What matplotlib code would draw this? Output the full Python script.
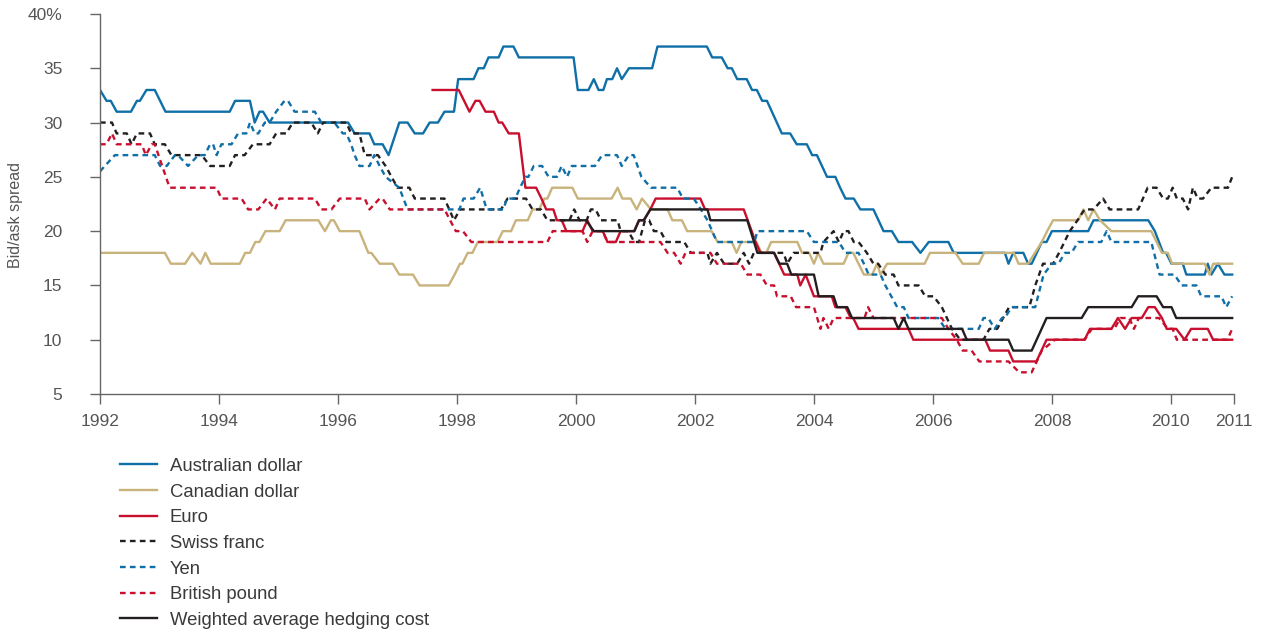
import matplotlib
matplotlib.use("Agg")
import matplotlib.pyplot as plt

plt.rcParams['font.family'] = ['Liberation Sans', 'DejaVu Sans']

# bid/ask spreads: (year, value)
aud = [(1992.00, 33), (1992.11, 32), (1992.18, 32), (1992.28, 31), (1992.52, 31), (1992.62, 32), (1992.67, 32),
       (1992.78, 33), (1992.92, 33), (1993.10, 31), (1994.18, 31), (1994.27, 32), (1994.52, 32), (1994.60, 30),
       (1994.68, 31), (1994.74, 31), (1994.85, 30), (1996.17, 30), (1996.28, 29), (1996.53, 29), (1996.61, 28),
       (1996.75, 28), (1996.85, 27), (1997.03, 30), (1997.17, 30), (1997.29, 29), (1997.43, 29), (1997.54, 30),
       (1997.68, 30), (1997.79, 31), (1997.95, 31), (1998.02, 34), (1998.28, 34), (1998.36, 35), (1998.45, 35),
       (1998.53, 36), (1998.70, 36), (1998.78, 37), (1998.95, 37), (1999.04, 36), (1999.96, 36), (2000.03, 33),
       (2000.21, 33), (2000.30, 34), (2000.38, 33), (2000.46, 33), (2000.52, 34), (2000.61, 34), (2000.69, 35),
       (2000.77, 34), (2000.89, 35), (2001.28, 35), (2001.37, 37), (2002.20, 37), (2002.29, 36), (2002.45, 36),
       (2002.55, 35), (2002.62, 35), (2002.71, 34), (2002.87, 34), (2002.96, 33), (2003.04, 33), (2003.13, 32),
       (2003.21, 32), (2003.46, 29), (2003.60, 29), (2003.71, 28), (2003.88, 28), (2003.97, 27), (2004.05, 27),
       (2004.22, 25), (2004.36, 25), (2004.44, 24), (2004.53, 23), (2004.67, 23), (2004.78, 22), (2005.00, 22),
       (2005.17, 20), (2005.31, 20), (2005.42, 19), (2005.65, 19), (2005.79, 18), (2005.93, 19), (2006.26, 19),
       (2006.35, 18), (2007.21, 18), (2007.27, 17), (2007.35, 18), (2007.52, 18), (2007.60, 17), (2007.66, 17),
       (2007.83, 19), (2007.91, 19), (2008.00, 20), (2008.61, 20), (2008.70, 21), (2009.62, 21), (2009.73, 20),
       (2009.87, 18), (2009.92, 18), (2010.01, 17), (2010.20, 17), (2010.26, 16), (2010.57, 16), (2010.62, 17),
       (2010.68, 16), (2010.79, 17), (2010.90, 16), (2011.03, 16)]

cad = [(1992.00, 18), (1993.09, 18), (1993.19, 17), (1993.43, 17), (1993.55, 18), (1993.69, 17), (1993.77, 18),
       (1993.86, 17), (1994.35, 17), (1994.44, 18), (1994.52, 18), (1994.61, 19), (1994.68, 19), (1994.78, 20),
       (1995.02, 20), (1995.12, 21), (1995.67, 21), (1995.78, 20), (1995.88, 21), (1995.93, 21), (1996.03, 20),
       (1996.36, 20), (1996.51, 18), (1996.56, 18), (1996.70, 17), (1996.92, 17), (1997.03, 16), (1997.26, 16),
       (1997.37, 15), (1997.86, 15), (1997.96, 16), (1998.05, 17), (1998.09, 17), (1998.18, 18), (1998.26, 18),
       (1998.35, 19), (1998.68, 19), (1998.77, 20), (1998.91, 20), (1998.99, 21), (1999.19, 21), (1999.27, 22),
       (1999.38, 22), (1999.47, 23), (1999.52, 23), (1999.60, 24), (1999.94, 24), (2000.03, 23), (2000.60, 23),
       (2000.70, 24), (2000.78, 23), (2000.92, 23), (2001.02, 22), (2001.11, 23), (2001.26, 22), (2001.54, 22),
       (2001.62, 21), (2001.78, 21), (2001.87, 20), (2002.28, 20), (2002.38, 19), (2002.62, 19), (2002.70, 18),
       (2002.78, 19), (2003.03, 19), (2003.12, 18), (2003.20, 18), (2003.28, 19), (2003.72, 19), (2003.80, 18),
       (2003.92, 18), (2004.00, 17), (2004.07, 18), (2004.16, 17), (2004.50, 17), (2004.58, 18), (2004.66, 18),
       (2004.84, 16), (2004.98, 16), (2005.06, 17), (2005.12, 16), (2005.23, 17), (2005.86, 17), (2005.95, 18),
       (2006.38, 18), (2006.50, 17), (2006.77, 17), (2006.86, 18), (2007.36, 18), (2007.44, 17), (2007.60, 17),
       (2007.83, 19), (2007.92, 20), (2008.02, 21), (2008.44, 21), (2008.53, 22), (2008.61, 21), (2008.70, 22),
       (2008.81, 21), (2009.00, 20), (2009.67, 20), (2009.85, 18), (2009.95, 18), (2010.02, 17), (2010.57, 17),
       (2010.65, 16), (2010.71, 17), (2011.03, 17)]

eur = [(1997.59, 33), (1998.03, 33), (1998.21, 31), (1998.31, 32), (1998.38, 32), (1998.48, 31), (1998.62, 31),
       (1998.70, 30), (1998.76, 30), (1998.87, 29), (1999.04, 29), (1999.15, 24), (1999.33, 24), (1999.42, 23),
       (1999.50, 22), (1999.62, 22), (1999.68, 21), (1999.76, 21), (1999.84, 20), (2000.11, 20), (2000.19, 21),
       (2000.28, 20), (2000.45, 20), (2000.53, 19), (2000.67, 19), (2000.75, 20), (2000.98, 20), (2001.06, 21),
       (2001.14, 21), (2001.25, 22), (2001.34, 23), (2002.09, 23), (2002.17, 22), (2002.82, 22), (2003.02, 19),
       (2003.10, 18), (2003.33, 18), (2003.50, 16), (2003.72, 16), (2003.77, 15), (2003.86, 16), (2004.00, 14),
       (2004.30, 14), (2004.36, 13), (2004.53, 13), (2004.62, 12), (2004.66, 12), (2004.75, 11), (2005.59, 11),
       (2005.67, 10), (2006.88, 10), (2006.96, 9), (2007.27, 9), (2007.35, 8), (2007.74, 8), (2007.91, 10),
       (2008.55, 10), (2008.64, 11), (2009.00, 11), (2009.11, 12), (2009.23, 11), (2009.34, 12), (2009.51, 12),
       (2009.62, 13), (2009.73, 13), (2009.85, 12), (2009.93, 11), (2010.09, 11), (2010.23, 10), (2010.34, 11),
       (2010.62, 11), (2010.71, 10), (2011.03, 10)]

chf = [(1992.00, 30), (1992.20, 30), (1992.28, 29), (1992.45, 29), (1992.53, 28), (1992.62, 29), (1992.84, 29),
       (1992.92, 28), (1993.09, 28), (1993.20, 27), (1993.71, 27), (1993.85, 26), (1994.18, 26), (1994.27, 27),
       (1994.43, 27), (1994.57, 28), (1994.85, 28), (1994.96, 29), (1995.13, 29), (1995.24, 30), (1995.55, 30),
       (1995.66, 29), (1995.75, 30), (1996.14, 30), (1996.22, 29), (1996.36, 29), (1996.45, 27), (1996.67, 27),
       (1996.80, 26), (1997.00, 24), (1997.20, 24), (1997.29, 23), (1997.79, 23), (1997.95, 21), (1998.05, 22),
       (1998.74, 22), (1998.85, 23), (1999.16, 23), (1999.27, 22), (1999.41, 22), (1999.52, 21), (1999.89, 21),
       (1999.97, 22), (2000.06, 21), (2000.18, 21), (2000.25, 22), (2000.33, 22), (2000.42, 21), (2000.70, 21),
       (2000.75, 20), (2000.88, 20), (2000.98, 19), (2001.06, 19), (2001.16, 21), (2001.23, 21), (2001.31, 20),
       (2001.42, 20), (2001.52, 19), (2001.82, 19), (2001.93, 18), (2002.21, 18), (2002.26, 17), (2002.37, 18),
       (2002.49, 17), (2002.71, 17), (2002.82, 18), (2002.91, 17), (2002.99, 18), (2003.49, 18), (2003.55, 17),
       (2003.66, 18), (2004.11, 18), (2004.16, 19), (2004.33, 20), (2004.42, 19), (2004.50, 20), (2004.58, 20),
       (2004.67, 19), (2004.75, 19), (2004.89, 18), (2005.00, 17), (2005.08, 17), (2005.20, 16), (2005.34, 16),
       (2005.42, 15), (2005.76, 15), (2005.87, 14), (2006.01, 14), (2006.15, 13), (2006.32, 11), (2006.46, 10),
       (2006.85, 10), (2006.95, 11), (2007.08, 11), (2007.18, 12), (2007.28, 13), (2007.62, 13), (2007.72, 15),
       (2007.85, 17), (2008.02, 17), (2008.12, 18), (2008.30, 20), (2008.43, 21), (2008.55, 22), (2008.70, 22),
       (2008.86, 23), (2008.97, 22), (2009.45, 22), (2009.61, 24), (2009.76, 24), (2009.87, 23), (2009.95, 23),
       (2010.03, 24), (2010.10, 23), (2010.20, 23), (2010.29, 22), (2010.37, 24), (2010.45, 23), (2010.54, 23),
       (2010.68, 24), (2010.96, 24), (2011.03, 25)]

jpy = [(1992.00, 25.5), (1992.08, 26), (1992.25, 27), (1992.92, 27), (1993.01, 26), (1993.12, 26), (1993.26, 27),
       (1993.31, 27), (1993.48, 26), (1993.65, 27), (1993.76, 27), (1993.85, 28), (1993.90, 28), (1993.96, 27),
       (1994.04, 28), (1994.21, 28), (1994.32, 29), (1994.46, 29), (1994.52, 30), (1994.60, 29), (1994.66, 29),
       (1994.77, 30), (1994.85, 30), (1994.96, 31), (1995.10, 32), (1995.16, 32), (1995.27, 31), (1995.61, 31),
       (1995.72, 30), (1995.94, 30), (1996.08, 29), (1996.14, 29), (1996.22, 28), (1996.28, 27), (1996.36, 26),
       (1996.53, 26), (1996.61, 27), (1996.70, 26), (1996.80, 25), (1997.03, 24), (1997.17, 22), (1998.04, 22),
       (1998.11, 23), (1998.28, 23), (1998.39, 24), (1998.50, 22), (1998.78, 22), (1998.84, 23), (1998.98, 23),
       (1999.06, 24), (1999.15, 25), (1999.20, 25), (1999.29, 26), (1999.43, 26), (1999.54, 25), (1999.68, 25),
       (1999.76, 26), (1999.85, 25), (1999.93, 26), (2000.32, 26), (2000.44, 27), (2000.69, 27), (2000.77, 26),
       (2000.89, 27), (2000.97, 27), (2001.10, 25), (2001.26, 24), (2001.70, 24), (2001.80, 23), (2001.98, 23),
       (2002.10, 22), (2002.21, 21), (2002.37, 19), (2003.00, 19), (2003.05, 20), (2003.88, 20), (2004.00, 19),
       (2004.42, 19), (2004.53, 18), (2004.75, 18), (2004.84, 17), (2004.92, 16), (2005.12, 16), (2005.20, 15),
       (2005.40, 13), (2005.51, 13), (2005.59, 12), (2006.09, 12), (2006.21, 11), (2006.77, 11), (2006.85, 12),
       (2006.93, 12), (2007.04, 11), (2007.16, 12), (2007.21, 12), (2007.32, 13), (2007.72, 13), (2007.86, 16),
       (2008.00, 17), (2008.11, 17), (2008.22, 18), (2008.33, 18), (2008.44, 19), (2008.83, 19), (2008.92, 20),
       (2009.00, 19), (2009.67, 19), (2009.81, 16), (2010.06, 16), (2010.18, 15), (2010.43, 15), (2010.51, 14),
       (2010.85, 14), (2010.93, 13), (2011.03, 14)]

gbp = [(1992.00, 28), (1992.11, 28), (1992.20, 29), (1992.28, 28), (1992.70, 28), (1992.77, 27), (1992.87, 28),
       (1992.92, 28), (1993.17, 24), (1993.96, 24), (1994.04, 23), (1994.38, 23), (1994.49, 22), (1994.66, 22),
       (1994.80, 23), (1994.94, 22), (1995.02, 23), (1995.61, 23), (1995.72, 22), (1995.89, 22), (1996.03, 23),
       (1996.45, 23), (1996.53, 22), (1996.70, 23), (1996.75, 23), (1996.87, 22), (1997.79, 22), (1997.98, 20),
       (1998.10, 20), (1998.24, 19), (1999.52, 19), (1999.61, 20), (2000.11, 20), (2000.19, 19), (2000.28, 20),
       (2000.45, 20), (2000.53, 19), (2001.42, 19), (2001.54, 18), (2001.65, 18), (2001.76, 17), (2001.84, 18),
       (2002.26, 18), (2002.37, 17), (2002.77, 17), (2002.88, 16), (2003.10, 16), (2003.21, 15), (2003.33, 15),
       (2003.38, 14), (2003.61, 14), (2003.70, 13), (2004.00, 13), (2004.11, 11), (2004.16, 12), (2004.25, 11),
       (2004.33, 12), (2004.85, 12), (2004.91, 13), (2005.00, 12), (2006.15, 12), (2006.26, 11), (2006.40, 10),
       (2006.50, 9), (2006.65, 9), (2006.78, 8), (2007.27, 8), (2007.45, 7), (2007.66, 7), (2007.83, 9),
       (2008.05, 10), (2008.55, 10), (2008.67, 11), (2009.05, 11), (2009.15, 12), (2009.30, 12), (2009.38, 11),
       (2009.46, 12), (2009.80, 12), (2009.95, 11), (2010.03, 11), (2010.10, 10), (2010.95, 10), (2011.03, 11)]

wavg = [(1999.78, 21), (2000.17, 21), (2000.30, 20), (2000.98, 20), (2001.06, 21), (2001.14, 21), (2001.25, 22),
        (2002.21, 22), (2002.26, 21), (2002.88, 21), (2003.05, 18), (2003.33, 18), (2003.42, 17), (2003.55, 17),
        (2003.62, 16), (2004.00, 16), (2004.08, 14), (2004.33, 14), (2004.39, 13), (2004.56, 13), (2004.64, 12),
        (2005.34, 12), (2005.42, 11), (2005.51, 12), (2005.59, 11), (2006.49, 11), (2006.57, 10), (2007.27, 10),
        (2007.35, 9), (2007.66, 9), (2007.91, 12), (2008.50, 12), (2008.61, 13), (2009.34, 13), (2009.45, 14),
        (2009.76, 14), (2009.87, 13), (2010.01, 13), (2010.09, 12), (2011.03, 12)]

year_ticks = [1992, 1994, 1996, 1998, 2000, 2002, 2004, 2006, 2008, 2010, 2011.06]
year_labels = ['1992', '1994', '1996', '1998', '2000', '2002', '2004', '2006', '2008', '2010', '2011']
y_ticks = [5, 10, 15, 20, 25, 30, 35, 40]
y_labels = ['5', '10', '15', '20', '25', '30', '35', '40%']

BLUE = '#0f6fa6'
TAN = '#c9b37c'
RED = '#c8102e'
BLACK = '#231f20'
DASH = (0, (2.4, 1.8))

series = [
    ('Australian dollar', aud, BLUE, '-'),
    ('Canadian dollar', cad, TAN, '-'),
    ('Euro', eur, RED, '-'),
    ('Swiss franc', chf, BLACK, DASH),
    ('Yen', jpy, BLUE, DASH),
    ('British pound', gbp, RED, DASH),
    ('Weighted average hedging cost', wavg, BLACK, '-'),
]

fig = plt.figure(figsize=(12.63, 6.35), dpi=100)
ax = fig.add_axes([0.0792, 0.3795, 0.8978, 0.5985])

for name, pts, col, ls in series:
    xs, ys = zip(*pts)
    ax.plot(xs, ys, color=col, linestyle=ls, linewidth=1.7, label=name)

ax.set_xlim(1992, 2011.06)
ax.set_ylim(5, 40)
ax.set_xticks(year_ticks)
ax.set_xticklabels(year_labels)
ax.set_yticks(y_ticks)
ax.set_yticklabels(y_labels)

for s in ['top', 'right']:
    ax.spines[s].set_visible(False)
for s in ['left', 'bottom']:
    ax.spines[s].set_color('#666666')
    ax.spines[s].set_linewidth(1.0)
ax.tick_params(axis='both', direction='out', length=7.2, width=1.0, color='#666666',
               labelsize=12.5, labelcolor='#555555')
ax.tick_params(axis='x', pad=7)
ax.tick_params(axis='y', pad=20)

ax.set_ylabel('Bid/ask spread', fontsize=11.5, color='#555555')
ax.yaxis.set_label_coords(-0.068, 0.47)

ax.legend(loc='upper left', bbox_to_anchor=(0.095, 0.279), bbox_transform=fig.transFigure,
          frameon=False, fontsize=13.3, handlelength=2.0, handletextpad=0.7,
          labelspacing=0.47, borderpad=0, borderaxespad=0, labelcolor='#3a3a3a')

fig.savefig('out.png', dpi=100)
